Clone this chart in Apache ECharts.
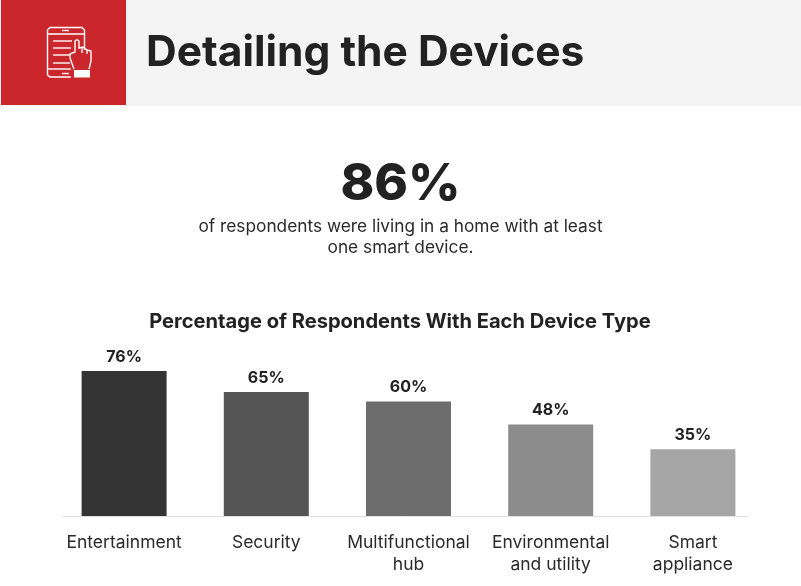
<!DOCTYPE html>
<html><head><meta charset="utf-8">
<style>html,body{margin:0;padding:0;background:#fff}#c{width:801px;height:586px}</style>
<script src="https://cdn.jsdelivr.net/npm/echarts@6/dist/echarts.min.js"></script>
</head><body><div id="c"></div>
<script>
const categories = ['Entertainment','Security','Multifunctional\nhub','Environmental\nand utility','Smart\nappliance'];
const values = [76,65,60,48,35];
const barColors = ['#333333','#555555','#6d6d6d','#8c8c8c','#a6a6a6'];
const headerTitle = 'Detailing the Devices';
const bigStat = '86%';
const statLine1 = 'of respondents were living in a home with at least';
const statLine2 = 'one smart device.';
const chartTitle = 'Percentage of Respondents With Each Device Type';
const FONT = 'Inter';
const W = '#ffffff';
const stroke = {stroke:W,lineWidth:1.4,fill:null};
function poly(points){return {type:'polyline',shape:{points},style:stroke,silent:true};}
const chart = echarts.init(document.getElementById('c'),null,{renderer:'canvas'});
chart.setOption({
  animation:false,
  backgroundColor:'#fff',
  grid:{left:53,right:37,top:363.4,bottom:70},
  xAxis:{type:'category',data:categories,axisLine:{show:false},axisTick:{show:false},
    axisLabel:{color:'#2a2a2a',fontFamily:FONT,fontSize:17.5,lineHeight:22,margin:15.5,interval:0}},
  yAxis:{type:'value',min:0,max:80,show:false},
  series:[{type:'bar',barWidth:85,data:values.map((v,i)=>({value:v,itemStyle:{color:barColors[i]}})),
    label:{show:true,position:'top',distance:6,formatter:'{c}%',color:'#222',fontFamily:FONT,fontWeight:700,fontSize:16}}],
  graphic:[
    {type:'rect',z:-1,shape:{x:0,y:0,width:801,height:106},style:{fill:'#f4f4f4'},silent:true},
    {type:'rect',z:-1,shape:{x:1,y:0,width:125,height:105},style:{fill:'#cc262d'},silent:true},
    {type:'group',z:5,children:[
      poly([[71,77],[50,77],[47.5,75],[47.5,30],[50,27.5],[82,27.5],[84.5,30],[84.5,50]]),
      poly([[48,34],[84,34]]),
      poly([[48,69],[71,69]]),
      poly([[62,30.5],[69,30.5]]),
      poly([[62,73.5],[69,73.5]]),
      poly([[53,41],[72,41]]),poly([[53,48],[71,48]]),poly([[53,55],[70,55]]),poly([[53,63],[70,63]]),
      poly([[74,69],[70,58],[70,54],[75,52],[75,41],[77,39.5],[79,41],[79,48],[83,47],[87,50],[91,51],[91,61],[89,69]]),
      poly([[82,48],[82,53]]),poly([[87,50],[87,54]]),
      {type:'rect',shape:{x:74,y:70,width:16,height:7.5},style:{fill:W},silent:true}
    ]},
    {type:'text',style:{x:146,y:53,text:headerTitle,fill:'#222',font:'700 42.5px '+FONT,textVerticalAlign:'middle'},silent:true},
    {type:'text',style:{x:400.5,y:185,text:bigStat,fill:'#222',font:'800 51px '+FONT,textAlign:'center',textVerticalAlign:'middle'},silent:true},
    {type:'text',style:{x:400.5,y:227,text:statLine1,fill:'#2a2a2a',font:'400 17.3px '+FONT,textAlign:'center',textVerticalAlign:'middle'},silent:true},
    {type:'text',style:{x:400.5,y:248,text:statLine2,fill:'#2a2a2a',font:'400 17.3px '+FONT,textAlign:'center',textVerticalAlign:'middle'},silent:true},
    {type:'text',style:{x:400,y:322,text:chartTitle,fill:'#222',font:'700 20.1px '+FONT,textAlign:'center',textVerticalAlign:'middle'},silent:true},
    {type:'line',shape:{x1:62,y1:516.5,x2:749,y2:516.5},style:{stroke:'#e2e2e2',lineWidth:1},silent:true}
  ]
});
</script></body></html>
